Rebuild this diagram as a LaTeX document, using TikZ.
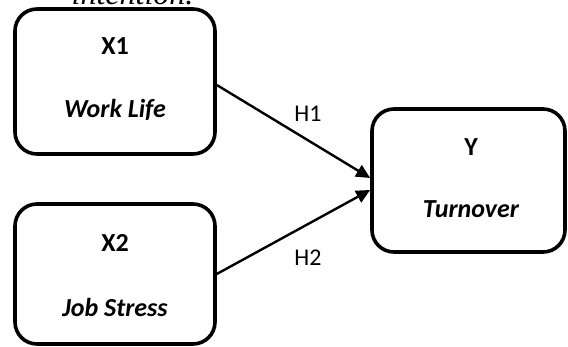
\documentclass[tikz,border=0pt]{standalone}
\usepackage{fontspec}
\setmainfont{Carlito}
\newfontfamily\capfont{Liberation Serif}
\usetikzlibrary{arrows.meta}
\begin{document}
\begin{tikzpicture}[x=1pt,y=-1pt,
  varbox/.style={draw, line width=3.6pt, rounded corners=22pt, inner sep=0pt},
  vartitle/.style={font=\fontsize{26}{30}\selectfont\bfseries},
  varname/.style={font=\fontsize{26}{30}\selectfont\bfseries\itshape},
  hyplabel/.style={font=\fontsize{24}{28}\selectfont},
  link/.style={line width=2.4pt, -{Triangle[length=14pt,width=13pt]}}]
\useasboundingbox (0,0) rectangle (568,347);
\node[varbox, minimum width=200pt, minimum height=145pt] (x1) at (115,81.5) {};
\node[varbox, minimum width=200pt, minimum height=140pt] (x2) at (115,274) {};
\node[varbox, minimum width=193pt, minimum height=143pt] (y) at (468.5,180.5) {};
\node[vartitle] (x1t) at (115,46) {X1};
\node[varname] (x1n) at (115,110) {Work Life};
\node[vartitle] (x2t) at (115,243) {X2};
\node[varname] (x2n) at (115,307) {Job Stress};
\node[vartitle] (yt) at (471,147) {Y};
\node[varname] (yn) at (471,209) {Turnover};
\node[font=\fontsize{32}{36}\selectfont\capfont\itshape, anchor=base] (cap) at (132.5,5) {intention.};
\draw[link] ([yshift=-3.5pt]x1.east) -- ([yshift=2.5pt]y.west);
\draw[link] (x2.east) -- ([yshift=-9.5pt]y.west);
\node[hyplabel] (h1) at (308,114) {H1};
\node[hyplabel] (h2) at (308,258) {H2};
\end{tikzpicture}
\end{document}
